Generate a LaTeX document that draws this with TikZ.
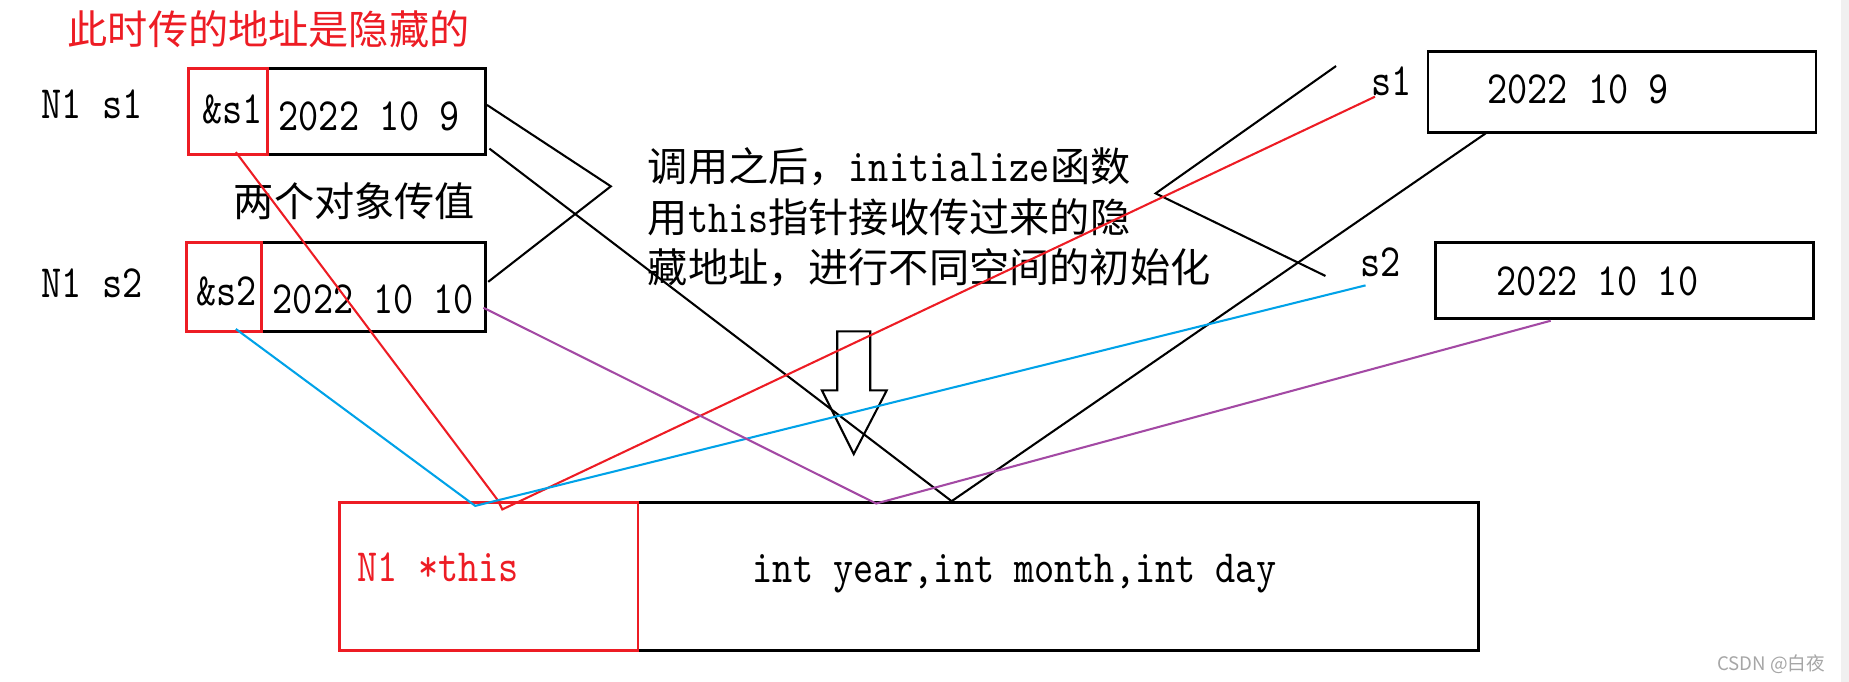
\documentclass[tikz,border=0pt]{standalone}
\usepackage{fontspec}
\setmainfont[FakeStretch=0.83]{lmmono10-regular.otf}
\newfontfamily\cjk{Noto Sans CJK SC}
\definecolor{paintred}{RGB}{237,28,36}
\definecolor{paintblue}{RGB}{0,162,232}
\definecolor{paintpurple}{RGB}{163,73,164}
\newcommand{\latin}{\normalfont\fontsize{22.3pt}{26pt}\selectfont}
\newcommand{\han}{\cjk\fontsize{19.4pt}{22pt}\selectfont}
\newcommand{\hantitle}{\cjk\fontsize{19.4pt}{24pt}\selectfont}
\newcommand{\wmark}{\cjk\fontsize{9pt}{11pt}\selectfont}

\begin{document}
\begin{tikzpicture}[x=0.02cm,y=-0.02cm,
  lbl/.style={inner sep=0pt,anchor=west,font=\latin},
  hanzi/.style={inner sep=0pt,anchor=west,font=\han},
  box/.style={draw=black,line width=1.4pt},
  redbox/.style={draw=paintred,line width=1.4pt},
  wire/.style={line width=1pt}]
\useasboundingbox (0,0) rectangle (1568,578);
\fill[gray!12] (1561,0) rectangle (1568,578);

%Title
\node[hanzi,font=\hantitle,text=paintred] (title) at (57,25){此时传的地址是隐藏的};

%Objects passed in
\node[lbl] (ns1) at (35,88){N1 s1};
\node[lbl] (ns2) at (35,240){N1 s2};
\draw[box] (227,58) rectangle (412,131);
\draw[redbox] (160,58) rectangle (227,131);
\draw[box] (222,206) rectangle (412,281);
\draw[redbox] (158,206) rectangle (222,281);
\node[lbl] (as1) at (171,93){\&s1};
\node[lbl] (as2) at (166,247){\&s2};
\node[lbl] (date1) at (236,99){2022 10 9};
\node[lbl] (date2) at (231,254){2022 10 10};
\node[hanzi] (pass) at (198,171){两个对象传值};

%Explanation
\node[hanzi] (line1) at (549,141){调用之后，{\latin initialize}函数};
\node[hanzi] (line2) at (549,184){用{\latin this}指针接收传过来的隐};
\node[hanzi] (line3) at (549,227){藏地址，进行不同空间的初始化};

%Objects after the call
\draw[box] (1211,44) rectangle (1540,112);
\draw[box] (1217,206) rectangle (1538,270);
\node[lbl] (rs1) at (1163,69){s1};
\node[lbl] (rs2) at (1153,222){s2};
\node[lbl] (rdate1) at (1261,76){2022 10 9};
\node[lbl] (rdate2) at (1269,239){2022 10 10};

%Member function
\draw[box] (288,426) rectangle (1254,552);
\draw[redbox] (288,426) rectangle (541,552);
\node[lbl,text=paintred] (this) at (303,481){N1 *this};
\node[lbl,anchor=base west] (params) at (638,494){int year,int month,int day};

%Down arrow
\draw[wire] (710,281) -- (738,281) -- (738,331) -- (752,331) -- (724,385)
  -- (697,331) -- (710,331) -- cycle;

%End points of the connectors
\coordinate (d1top) at (413,89);
\coordinate (fold) at (518,158);
\coordinate (d2top) at (414,239);
\coordinate (d1low) at (415,126);
\coordinate (hitk) at (807,425);
\coordinate (r1foot) at (1260,113);
\coordinate (foldR) at (980,164);
\coordinate (upR) at (1133,56);
\coordinate (downR) at (1124,234);
\coordinate (as1foot) at (200,129);
\coordinate (hitr) at (422,424);
\coordinate (hitr2) at (426,432);
\coordinate (s1tip) at (1166,82);
\coordinate (as2foot) at (200,279);
\coordinate (hitb) at (403,429);
\coordinate (s2tip) at (1158,242);
\coordinate (d2foot) at (410,261);
\coordinate (hitp) at (743,427);
\coordinate (r2foot) at (1315,272);

%Black connectors
\draw[wire] (d1top) -- (fold) -- (d2top);
\draw[wire] (d1low) -- (hitk) -- (r1foot);
\draw[wire] (upR) -- (foldR) -- (downR);

%Address of s1
\draw[wire,paintred] (as1foot) -- (hitr) -- (hitr2) -- (s1tip);

%Address of s2
\draw[wire,paintblue] (as2foot) -- (hitb) -- (s2tip);

%Values of s2
\draw[wire,paintpurple] (d2foot) -- (hitp) -- (r2foot);

\node[anchor=east,inner sep=0pt,font=\wmark,text=gray!70] (wm) at (1548,563){CSDN @白夜};
\end{tikzpicture}
\end{document}
